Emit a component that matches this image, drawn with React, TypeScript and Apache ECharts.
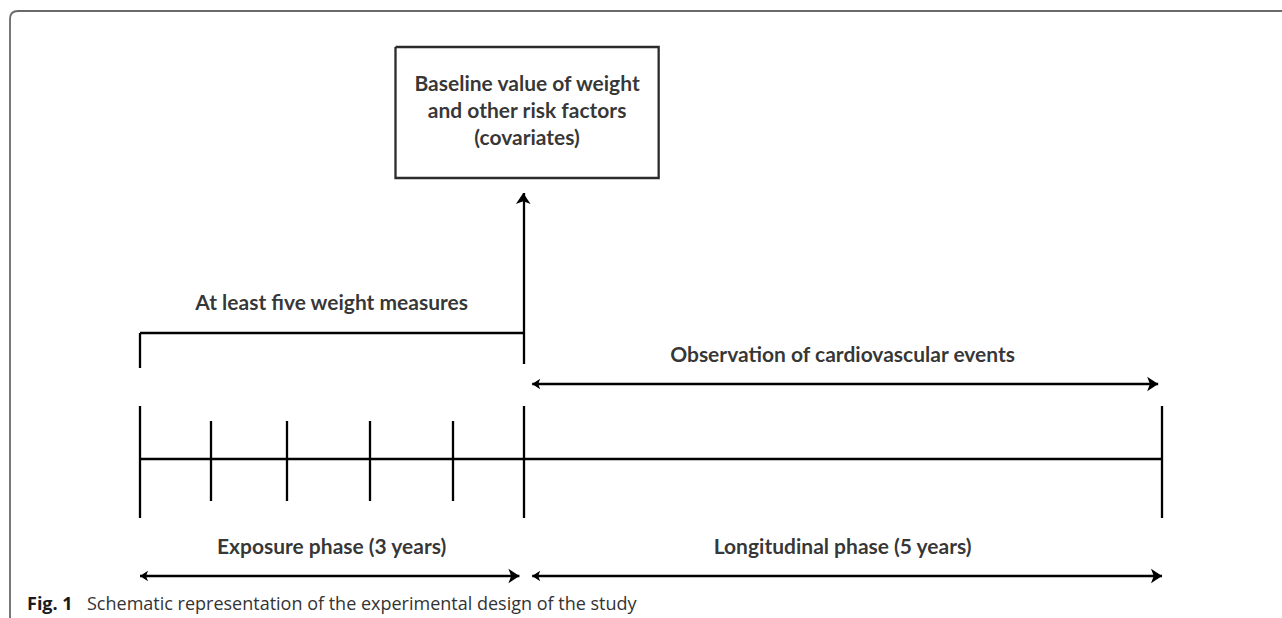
import React, { useEffect, useRef } from "react";
import * as echarts from "echarts";

// ---- data (time in years relative to baseline) ----
const exposureStart = -3;
const baseline = 0;
const followUpEnd = 5;
const weightMeasureTimes = [-2.45, -1.85, -1.2, -0.55];
const majorTimes = [exposureStart, baseline, followUpEnd];

const boxLines = ["Baseline value of weight", "and other risk factors", "(covariates)"];
const measuresLabel = "At least five weight measures";
const observationLabel = "Observation of cardiovascular events";
const exposureLabel = "Exposure phase (3 years)";
const longitudinalLabel = "Longitudinal phase (5 years)";
const captionBold = "Fig. 1";
const captionText = "Schematic representation of the experimental design of the study";

// ---- layout (vertical levels, px) ----
const LV = {
  timeline: 459,
  majorTop: 406,
  majorBottom: 518,
  minorTop: 421,
  minorBottom: 501,
  bracket: 333,
  bracketLeg: 368,
  arrowBase: 364,
  arrowTip: 193,
  boxTop: 47,
  boxBottom: 178,
  obsArrow: 384,
  phaseArrow: 576,
  labelMeasures: 301,
  labelObs: 353,
  labelPhase: 545,
  labelBox: 109,
};
const BOX_X = [-1.0, 1.06];
const GAP = 0.07;

echarts.graphic.registerShape(
  "frame",
  echarts.graphic.extendPath("M10 620 L10 19 Q10 11 18 11 L1284 11", {})
);

function buildOption() {
  const segments: any[] = [];
  segments.push({ coords: [[exposureStart, LV.timeline], [followUpEnd, LV.timeline]] });
  majorTimes.forEach((t) =>
    segments.push({ coords: [[t, LV.majorTop], [t, LV.majorBottom]] })
  );
  weightMeasureTimes.forEach((t) =>
    segments.push({ coords: [[t, LV.minorTop], [t, LV.minorBottom]] })
  );
  segments.push({ coords: [[exposureStart, LV.bracketLeg], [exposureStart, LV.bracket]] });
  segments.push({ coords: [[exposureStart, LV.bracket], [baseline, LV.bracket]] });

  const box = [
    [BOX_X[0], LV.boxTop],
    [BOX_X[1], LV.boxTop],
    [BOX_X[1], LV.boxBottom],
    [BOX_X[0], LV.boxBottom],
    [BOX_X[0], LV.boxTop],
  ];

  const doubleArrows = [
    { coords: [[baseline + GAP, LV.obsArrow], [followUpEnd - 0.03, LV.obsArrow]] },
    { coords: [[exposureStart, LV.phaseArrow], [baseline - 0.03, LV.phaseArrow]] },
    { coords: [[baseline + GAP, LV.phaseArrow], [followUpEnd, LV.phaseArrow]] },
  ];

  const midExp = (exposureStart + baseline) / 2;
  const midLong = (baseline + followUpEnd) / 2;
  const labels = [
    { name: boxLines.join("\n"), value: [(BOX_X[0] + BOX_X[1]) / 2, LV.labelBox] },
    { name: measuresLabel, value: [midExp, LV.labelMeasures] },
    { name: observationLabel, value: [midLong, LV.labelObs] },
    { name: exposureLabel, value: [midExp, LV.labelPhase] },
    { name: longitudinalLabel, value: [midLong, LV.labelPhase] },
  ];

  return {
    animation: false,
    backgroundColor: "#fff",
    grid: { left: 140, right: 120, top: 0, bottom: 0 },
    xAxis: { type: "value", min: exposureStart, max: followUpEnd, show: false },
    yAxis: { type: "value", min: 0, max: 618, inverse: true, show: false },
    graphic: [
      {
        type: "frame",
        x: 0,
        y: 0,
        silent: true,
        style: { stroke: "#6a6a6a", lineWidth: 1.8, fill: "none" },
      },
      {
        type: "text",
        x: 27,
        y: 603,
        silent: true,
        style: {
          text: captionBold,
          verticalAlign: "middle",
          fontFamily: "Open Sans",
          fontWeight: "bold",
          fontSize: 18,
          fill: "#1a1a1a",
        },
      },
      {
        type: "text",
        x: 87,
        y: 603,
        silent: true,
        style: {
          text: captionText,
          verticalAlign: "middle",
          fontFamily: "Open Sans",
          fontSize: 18,
          fill: "#333",
        },
      },
    ],
    series: [
      {
        type: "lines",
        coordinateSystem: "cartesian2d",
        symbol: "none",
        silent: true,
        lineStyle: { color: "#000", width: 2.3, opacity: 1 },
        data: segments,
      },
      {
        type: "lines",
        coordinateSystem: "cartesian2d",
        polyline: true,
        symbol: "none",
        silent: true,
        lineStyle: { color: "#2b2b2b", width: 2.3, opacity: 1 },
        data: [{ coords: box }],
      },
      {
        type: "lines",
        coordinateSystem: "cartesian2d",
        symbol: ["none", "arrow"],
        symbolSize: [8, 11],
        silent: true,
        lineStyle: { color: "#000", width: 2.3, opacity: 1 },
        data: [{ coords: [[baseline, LV.arrowBase], [baseline, LV.arrowTip]] }],
      },
      {
        type: "lines",
        coordinateSystem: "cartesian2d",
        symbol: ["arrow", "arrow"],
        symbolSize: [8, 11],
        silent: true,
        lineStyle: { color: "#000", width: 2.3, opacity: 1 },
        data: doubleArrows,
      },
      {
        type: "scatter",
        symbolSize: 1,
        silent: true,
        itemStyle: { color: "transparent" },
        label: {
          show: true,
          position: "inside",
          formatter: (p: any) => p.name,
          fontFamily: "Lato",
          fontWeight: "bold",
          fontSize: 21,
          lineHeight: 27,
          color: "#000",
          align: "center",
          verticalAlign: "middle",
        },
        data: labels,
      },
    ],
  };
}

export default function App() {
  const ref = useRef<HTMLDivElement>(null);
  useEffect(() => {
    if (!ref.current) return;
    const chart = echarts.init(ref.current, null, { renderer: "svg" });
    chart.setOption(buildOption() as any);
    return () => chart.dispose();
  }, []);
  return (
    <div
      ref={ref}
      style={{ position: "absolute", left: 0, top: 0, width: 1282, height: 618, background: "#fff" }}
    />
  );
}
